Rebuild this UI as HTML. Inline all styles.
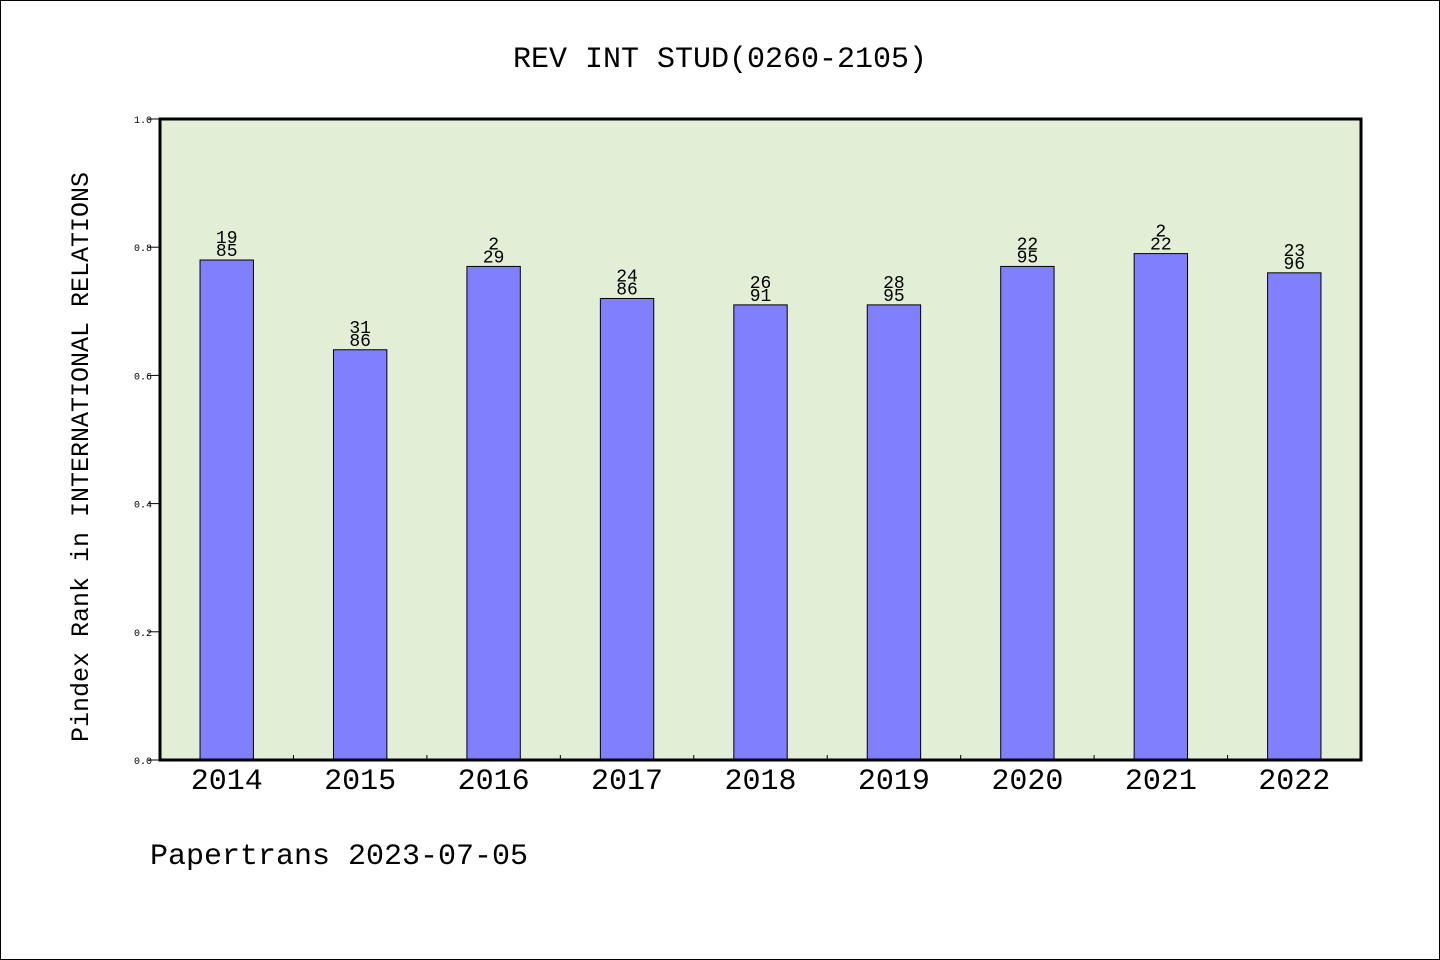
<!DOCTYPE html>
<html><head><meta charset="utf-8"><style>
body{margin:0;background:#fff}
svg{display:block}
text{font-family:"WenQuanYi Zen Hei","Liberation Mono",monospace;fill:#000}
</style></head><body>
<svg id="chart" width="1440" height="960">
<rect x="0.5" y="0.5" width="1439" height="959" fill="#fff" stroke="#000"/>
<text x="720" y="67" font-size="30" text-anchor="middle">REV INT STUD(0260-2105)</text>
<rect x="160" y="119" width="1201" height="641" fill="#e2efd6"/>
<g id="bars"></g>
<rect x="160" y="119" width="1201" height="641" fill="none" stroke="#000" stroke-width="3"/>
<text transform="translate(88,457) rotate(-90)" font-size="25" text-anchor="middle">Pindex Rank in INTERNATIONAL RELATIONS</text>
<text x="150" y="864" font-size="30">Papertrans 2023-07-05</text>
</svg>
<script>
const categories=["2014","2015","2016","2017","2018","2019","2020","2021","2022"];
const values=[0.78,0.64,0.77,0.72,0.71,0.71,0.77,0.79,0.76];
const ranks=["19","31","2","24","26","28","22","2","23"];
const totals=["85","86","29","86","91","95","95","22","96"];
const yTicks=["0.0","0.2","0.4","0.6","0.8","1.0"];
const NS="http://www.w3.org/2000/svg";
const svg=document.getElementById('chart');
const g=document.getElementById('bars');
const X0=160,W=1201,Y0=760,H=641;
const slot=W/categories.length;
const xc=i=>X0+slot*(i+0.5);
const y=v=>Y0-v*H;
function mk(tag,attrs,parent){const e=document.createElementNS(NS,tag);for(const k in attrs)e.setAttribute(k,attrs[k]);(parent||svg).appendChild(e);return e;}
yTicks.forEach(t=>{
  const v=parseFloat(t);
  const l=mk('line',{x1:148,x2:160,y1:y(v),y2:y(v),stroke:'#000','stroke-width':1});
  
  
  const tx=mk('text',{x:152,y:y(v)+4,'font-size':10,'text-anchor':'end'});
  tx.textContent=t;
  
  
});
categories.forEach((c,i)=>{
  const bw=slot*0.4;
  const r=mk('rect',{x:xc(i)-bw/2,y:y(values[i]),width:bw,height:Y0-y(values[i]),fill:'#8080ff',stroke:'#000','stroke-width':1},g);
  
  
  const t1=mk('text',{x:xc(i),y:y(values[i])-17,'font-size':18,'text-anchor':'middle'});
  t1.textContent=ranks[i];
  
  
  const t2=mk('text',{x:xc(i),y:y(values[i])-4,'font-size':18,'text-anchor':'middle'});
  t2.textContent=totals[i];
  
  
  const xl=mk('text',{x:xc(i),y:789,'font-size':30,'text-anchor':'middle'});
  xl.textContent=c;
  
  
  if(i>0){
    const tk=mk('line',{x1:X0+slot*i,x2:X0+slot*i,y1:Y0-5,y2:Y0,stroke:'#000','stroke-width':1});
    
    
  }
});
</script>
</body></html>
